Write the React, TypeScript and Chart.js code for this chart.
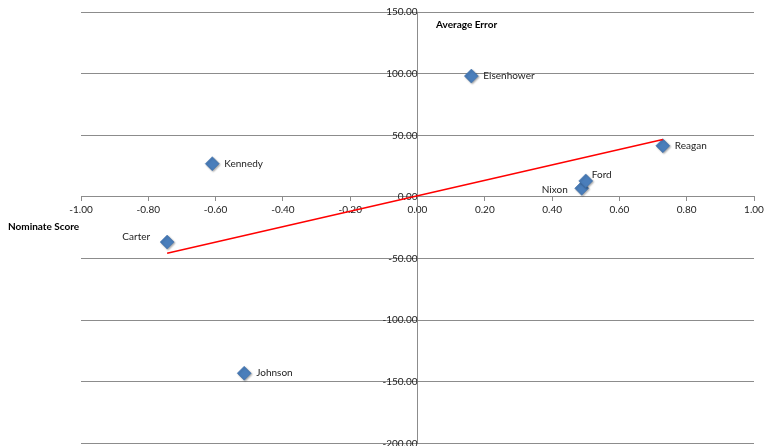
import React, { useEffect, useRef } from "react";
import { Chart, registerables } from "chart.js";

Chart.register(...registerables);

const presidents = ["Eisenhower", "Kennedy", "Johnson", "Nixon", "Ford", "Carter", "Reagan"];
const nominateScores = [0.16, -0.61, -0.515, 0.488, 0.5, -0.744, 0.729];
const averageErrors = [98, 27, -143, 7, 13, -36.6, 41.5];
const labelPlacement = ["right", "right", "right", "left", "aboveRight", "aboveLeft", "right"];

const xMin = -1;
const xMax = 1;
const xStep = 0.2;
const yMin = -200;
const yMax = 150;
const yStep = 50;

const xAxisTitle = "Nominate Score";
const yAxisTitle = "Average Error";

const FONT = "Lato, 'Liberation Sans', sans-serif";

function regression(xs: number[], ys: number[]) {
  const n = xs.length;
  const mx = xs.reduce((a, b) => a + b, 0) / n;
  const my = ys.reduce((a, b) => a + b, 0) / n;
  let sxy = 0;
  let sxx = 0;
  for (let i = 0; i < n; i++) {
    sxy += (xs[i] - mx) * (ys[i] - my);
    sxx += (xs[i] - mx) * (xs[i] - mx);
  }
  const slope = sxy / sxx;
  return { slope, intercept: my - slope * mx };
}

const zeroPadding = (scale: any) => {
  scale.paddingTop = 0;
  scale.paddingBottom = 0;
  scale.paddingLeft = 0;
  scale.paddingRight = 0;
};

export default function App() {
  const ref = useRef<HTMLCanvasElement | null>(null);

  useEffect(() => {
    if (!ref.current) return;
    const pts = nominateScores.map((x, i) => ({ x, y: averageErrors[i] }));
    const { slope, intercept } = regression(nominateScores, averageErrors);
    const lo = Math.min(...nominateScores);
    const hi = Math.max(...nominateScores);
    const trend = [
      { x: lo, y: slope * lo + intercept },
      { x: hi, y: slope * hi + intercept },
    ];

    const labelsPlugin = {
      id: "labelsPlugin",
      afterDatasetsDraw(chart: any) {
        const ctx = chart.ctx;
        const meta = chart.getDatasetMeta(1);
        ctx.save();
        ctx.font = `10px ${FONT}`;
        ctx.fillStyle = "#222";
        ctx.textBaseline = "middle";
        meta.data.forEach((el: any, i: number) => {
          const p = labelPlacement[i];
          let x = el.x;
          let y = el.y;
          if (p === "right") {
            ctx.textAlign = "left";
            x += 12;
          } else if (p === "left") {
            ctx.textAlign = "right";
            x -= 14;
            y += 1;
          } else if (p === "aboveRight") {
            ctx.textAlign = "left";
            x += 6;
            y -= 6;
          } else {
            ctx.textAlign = "right";
            x -= 17;
            y -= 5;
          }
          ctx.fillText(presidents[i], x, y);
        });
        ctx.font = `bold 10px ${FONT}`;
        ctx.textAlign = "left";
        ctx.fillStyle = "#000";
        ctx.fillText(xAxisTitle, 8, 227);
        ctx.fillText(yAxisTitle, 436, 25);
        ctx.restore();
      },
      beforeDatasetDraw(chart: any, args: any) {
        if (args.index === 1) {
          const ctx = chart.ctx;
          ctx.save();
          ctx.shadowColor = "rgba(0,0,0,0.35)";
          ctx.shadowBlur = 2;
          ctx.shadowOffsetX = 1;
          ctx.shadowOffsetY = 1;
        }
      },
      afterDatasetDraw(chart: any, args: any) {
        if (args.index === 1) chart.ctx.restore();
      },
    };

    const chart = new Chart(ref.current, {
      type: "scatter",
      data: {
        datasets: [
          {
            type: "line",
            data: trend,
            borderColor: "#ff0000",
            borderWidth: 1.5,
            pointRadius: 0,
            showLine: true,
            fill: false,
          } as any,
          {
            data: pts,
            pointStyle: "rectRot",
            pointRadius: 7,
            backgroundColor: "#4a7ebb",
            borderColor: "#3d6ca6",
            borderWidth: 0.5,
          },
        ],
      },
      options: {
        animation: false,
        responsive: false,
        maintainAspectRatio: false,
        layout: { padding: { left: 81, right: 10, top: 12, bottom: 4 } },
        plugins: { legend: { display: false }, tooltip: { enabled: false } },
        scales: {
          x: {
            type: "linear",
            position: { y: 0 } as any,
            min: xMin,
            max: xMax,
            afterFit: zeroPadding,
            grid: { display: true, drawOnChartArea: false, tickLength: 4, color: "#8c8c8c" },
            border: { display: true, color: "#8c8c8c", width: 1 },
            ticks: {
              stepSize: xStep,
              padding: 3,
              color: "#222",
              font: { family: FONT, size: 10 },
              maxRotation: 0,
              callback: (v: any) => Number(v).toFixed(2),
            },
          },
          y: {
            type: "linear",
            position: { x: 0 } as any,
            min: yMin,
            max: yMax,
            afterFit: zeroPadding,
            grid: { display: true, drawOnChartArea: true, tickLength: 4, color: "#8c8c8c" },
            border: { display: true, color: "#8c8c8c", width: 1 },
            ticks: {
              stepSize: yStep,
              padding: 2,
              color: "#222",
              font: { family: FONT, size: 10 },
              callback: (v: any) => Number(v).toFixed(2),
            },
          },
        },
      },
      plugins: [labelsPlugin],
    });
    return () => chart.destroy();
  }, []);

  return (
    <div style={{ position: "fixed", left: 0, top: 0, width: 764, height: 446, background: "#fff", overflow: "hidden" }}>
      <canvas ref={ref} width={764} height={451} style={{ display: "block" }} />
    </div>
  );
}
